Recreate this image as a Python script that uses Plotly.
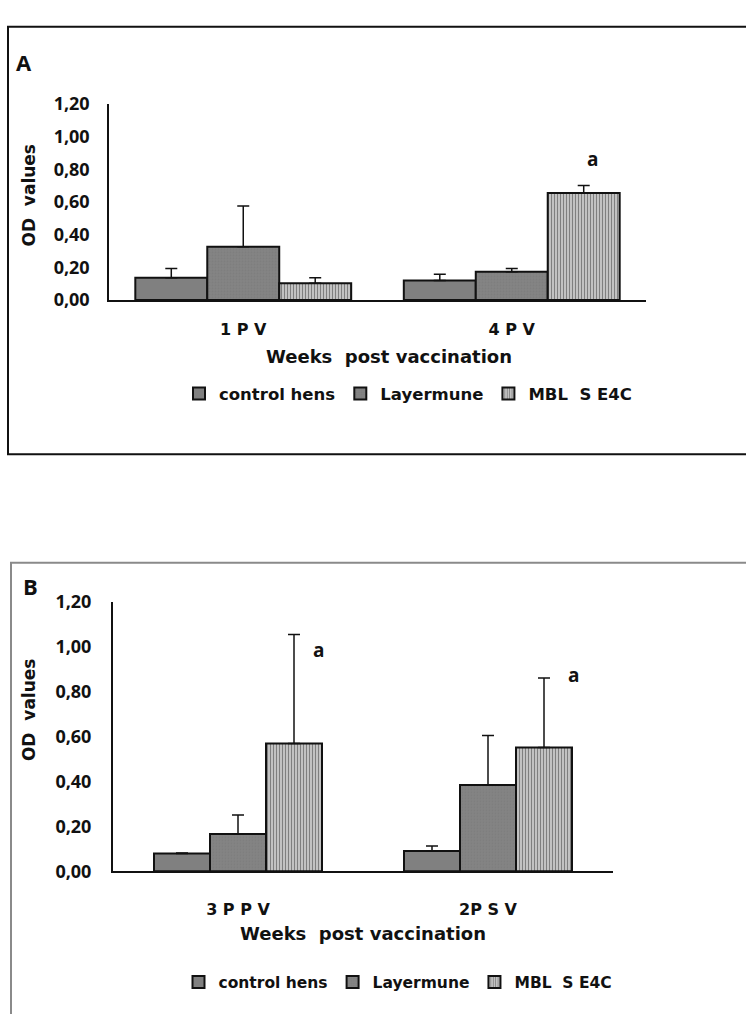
import plotly.graph_objects as go

W, H = 746, 1014

# ---------------- data ----------------
series = ["control hens", "Layermune", "MBL  S E4C"]

cats_A = ["1 P V", "4 P V"]
vals_A = {
    "control hens": [0.137, 0.119],
    "Layermune": [0.326, 0.173],
    "MBL  S E4C": [0.103, 0.655],
}
err_A = {
    "control hens": [0.056, 0.038],
    "Layermune": [0.249, 0.020],
    "MBL  S E4C": [0.034, 0.045],
}
sig_A = ["", "a"]
sig_y_A = [None, 0.86]
sig_dx_A = [None, 0.125]

cats_B = ["3 P P V", "2P S V"]
vals_B = {
    "control hens": [0.079, 0.090],
    "Layermune": [0.166, 0.384],
    "MBL  S E4C": [0.569, 0.551],
}
err_B = {
    "control hens": [0.002, 0.022],
    "Layermune": [0.084, 0.220],
    "MBL  S E4C": [0.485, 0.309],
}
sig_B = ["a", "a"]
sig_y_B = [0.985, 0.873]
sig_dx_B = [0.43, 0.52]

ytick_vals = [0.0, 0.2, 0.4, 0.6, 0.8, 1.0, 1.2]
ytick_text = ["0,00", "0,20", "0,40", "0,60", "0,80", "1,00", "1,20"]

# ---------------- style ----------------
GRAY = "#808080"
styles = {
    "control hens": dict(color=GRAY, line=dict(color="#111111", width=2)),
    "Layermune": dict(color=GRAY, line=dict(color="#111111", width=2),
                      pattern=dict(shape=".", fgcolor="#767676", bgcolor="#848484", size=3, solidity=0.3)),
    "MBL  S E4C": dict(color="white", line=dict(color="#111111", width=2),
                       pattern=dict(shape="|", fgcolor="#000000", bgcolor="#ffffff", size=3, solidity=0.65)),
}

FONT = "DejaVu Sans"
TICKFONT = dict(family="Open Sans", size=18, color="#111", weight="bold")


def px(x):
    return x / W


def py(y):
    return 1 - y / H


fig = go.Figure()

panels = [
    dict(cats=cats_A, vals=vals_A, err=err_A, xa="x", ya="y", legend="legend", width=0.268,
         sig=sig_A, sig_y=sig_y_A, sig_dx=sig_dx_A),
    dict(cats=cats_B, vals=vals_B, err=err_B, xa="x2", ya="y2", legend="legend2", width=0.224,
         sig=sig_B, sig_y=sig_y_B, sig_dx=sig_dx_B),
]

annotations = []
for p in panels:
    w = p["width"]
    for i, s in enumerate(series):
        off = -1.5 * w + i * w
        fig.add_trace(go.Bar(
            x=p["cats"], y=p["vals"][s], name=s,
            xaxis=p["xa"], yaxis=p["ya"], legend=p["legend"],
            width=w, offset=off,
            marker=styles[s],
            error_y=dict(type="data", array=p["err"][s], arrayminus=[0] * len(p["cats"]),
                         symmetric=False, color="#111111", thickness=1.5, width=6),
        ))
    # significance letters above the last series
    off_last = -1.5 * w + 2 * w
    for j, lab in enumerate(p["sig"]):
        if lab:
            annotations.append(dict(
                x=j + off_last + w * 0.5 + w * p["sig_dx"][j], y=p["sig_y"][j],
                xref=p["xa"], yref=p["ya"], text=lab, showarrow=False,
                font=dict(family="Open Sans", size=19, color="#111", weight="bold"),
            ))

axis_common = dict(showgrid=False, zeroline=False, ticks="", showline=True, linecolor="#111")

fig.update_layout(
    width=W, height=H,
    margin=dict(l=0, r=0, t=0, b=0),
    plot_bgcolor="white", paper_bgcolor="white",
    barmode="group",
    showlegend=True,
    xaxis=dict(domain=[px(109), px(646)], anchor="y", type="category", linewidth=2,
               tickfont=dict(family=FONT, size=16, color="#111", weight="bold"),
               ticklabelstandoff=14, **axis_common),
    yaxis=dict(domain=[py(294), py(93)], anchor="x", range=[0, 1.2], linewidth=1.5,
               tickvals=ytick_vals, ticktext=ytick_text, tickfont=TICKFONT,
               ticklabelstandoff=14, **axis_common),
    xaxis2=dict(domain=[px(113), px(613)], anchor="y2", type="category", linewidth=2,
                tickfont=dict(family=FONT, size=16, color="#111", weight="bold"),
                ticklabelstandoff=23, **axis_common),
    yaxis2=dict(domain=[py(879), py(603)], anchor="x2", range=[0, 1.2], linewidth=2,
                tickvals=ytick_vals, ticktext=ytick_text, tickfont=TICKFONT,
                ticklabelstandoff=16, **axis_common),
    legend=dict(orientation="h", x=px(408), y=py(390), xanchor="center", yanchor="middle",
                font=dict(family=FONT, size=16.5, color="#111", weight="bold"),
                itemwidth=30, tracegroupgap=0, bgcolor="rgba(0,0,0,0)"),
    legend2=dict(orientation="h", x=px(398), y=py(993), xanchor="center", yanchor="middle",
                 font=dict(family=FONT, size=15.5, color="#111", weight="bold"),
                 itemwidth=30, tracegroupgap=0, bgcolor="rgba(0,0,0,0)"),
)

# titles and panel letters
title_font = dict(family=FONT, size=18, color="#111", weight="bold")
annotations += [
    dict(x=px(389), y=py(352), xref="paper", yref="paper", text="Weeks  post vaccination",
         showarrow=False, font=title_font, xanchor="center", yanchor="middle"),
    dict(x=px(363), y=py(943), xref="paper", yref="paper", text="Weeks  post vaccination",
         showarrow=False, font=title_font, xanchor="center", yanchor="middle"),
    dict(x=px(29), y=py(187), xref="paper", yref="paper", text="OD  values", textangle=-90,
         showarrow=False, font=dict(family=FONT, size=17, color="#111", weight="bold"),
         xanchor="center", yanchor="middle"),
    dict(x=px(29), y=py(714), xref="paper", yref="paper", text="OD  values", textangle=-90,
         showarrow=False, font=dict(family=FONT, size=17, color="#111", weight="bold"),
         xanchor="center", yanchor="middle"),
    dict(x=px(24), y=py(50), xref="paper", yref="paper", text="A",
         showarrow=False, font=dict(family="Open Sans", size=22, color="#111", weight="bold"),
         xanchor="center", yanchor="middle"),
    dict(x=px(30), y=py(587), xref="paper", yref="paper", text="B",
         showarrow=False, font=dict(family="Open Sans", size=22, color="#111", weight="bold"),
         xanchor="center", yanchor="middle"),
]
fig.update_layout(annotations=annotations)

# frames around panels
fig.add_shape(type="rect", xref="paper", yref="paper",
              x0=px(8), x1=px(760), y0=py(452), y1=py(14),
              line=dict(color="#111", width=2), fillcolor="rgba(0,0,0,0)", layer="below")
fig.add_shape(type="rect", xref="paper", yref="paper",
              x0=px(11), x1=px(760), y0=py(1030), y1=py(563),
              line=dict(color="#8a8a8a", width=2), fillcolor="rgba(0,0,0,0)", layer="below")

fig.write_html("out.html")
